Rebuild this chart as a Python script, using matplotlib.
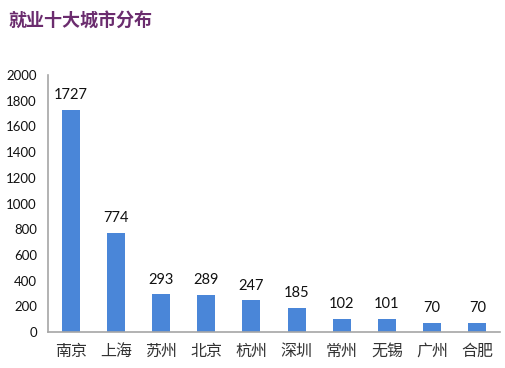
import matplotlib.pyplot as plt
import numpy as np

plt.rcParams['font.family'] = ['Lato', 'Noto Sans CJK SC', 'DejaVu Sans']

cities = ["南京", "上海", "苏州", "北京", "杭州", "深圳", "常州", "无锡", "广州", "合肥"]
counts = [1727, 774, 293, 289, 247, 185, 102, 101, 70, 70]
yticks = [0, 200, 400, 600, 800, 1000, 1200, 1400, 1600, 1800, 2000]

fig = plt.figure(figsize=(5.06, 3.68), dpi=100)
ax = fig.add_axes([0.095, 0.098, 0.893, 0.698])

x = np.arange(len(cities))
ax.bar(x, counts, width=0.4, color='#4A86D8')
for xi, v in zip(x, counts):
    ax.text(xi, v + 60, str(v), ha='center', va='bottom', fontsize=10.5,
            color='#111111', family=['Lato', 'DejaVu Sans'])

ax.set_xlim(-0.5, len(cities) - 0.5)
ax.set_ylim(0, 2000)
ax.set_yticks(yticks)
ax.set_yticklabels([str(t) for t in yticks], fontsize=9.5, color='#111111')
ax.set_xticks(x)
ax.set_xticklabels(cities, fontsize=11.5, color='#333333',
                   family=['Noto Sans CJK SC', 'DejaVu Sans'])
ax.tick_params(axis='both', length=0)
ax.tick_params(axis='y', pad=8)
ax.tick_params(axis='x', pad=8)

for s in ['top', 'right']:
    ax.spines[s].set_visible(False)
for s in ['left', 'bottom']:
    ax.spines[s].set_color('#A6A6A6')
    ax.spines[s].set_linewidth(1.2)

fig.text(0.016, 0.945, "就业十大城市分布", fontsize=13, fontweight='bold',
         color='#6B2C6E', ha='left', va='center',
         family=['Noto Sans CJK SC', 'DejaVu Sans'])

fig.savefig("out.png", dpi=100)
